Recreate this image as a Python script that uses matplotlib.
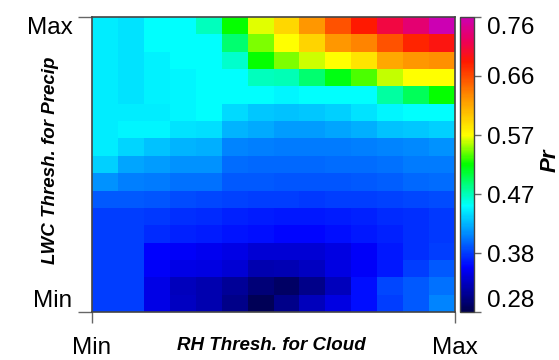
import numpy as np
import matplotlib
matplotlib.use("Agg")
import matplotlib.pyplot as plt
from matplotlib.colors import LinearSegmentedColormap

plt.rcParams["font.family"] = ["Liberation Sans", "DejaVu Sans"]

# Pr per cell; rows go from Max LWC threshold (top) to Min (bottom),
# columns from Min RH threshold (left) to Max (right)
pr_rows = [
    [.446, .443, .453, .453, .470, .520, .563, .590, .626, .659, .688, .712, .731, .760],
    [.446, .443, .453, .453, .453, .491, .544, .568, .592, .626, .635, .659, .683, .693],
    [.446, .443, .448, .453, .453, .467, .520, .544, .558, .568, .582, .616, .626, .630],
    [.446, .443, .448, .450, .453, .453, .470, .472, .491, .515, .534, .556, .568, .568],
    [.446, .443, .448, .450, .453, .453, .453, .450, .453, .453, .453, .477, .496, .520],
    [.446, .446, .446, .450, .453, .438, .431, .429, .431, .434, .443, .450, .453, .453],
    [.446, .450, .450, .443, .441, .424, .419, .414, .414, .417, .422, .429, .431, .434],
    [.446, .436, .429, .424, .422, .405, .402, .400, .400, .400, .402, .405, .407, .410],
    [.434, .417, .414, .410, .410, .395, .393, .393, .393, .395, .395, .398, .400, .400],
    [.410, .402, .400, .398, .398, .388, .388, .386, .386, .386, .388, .390, .393, .395],
    [.388, .388, .386, .383, .381, .378, .376, .376, .374, .376, .376, .378, .381, .383],
    [.376, .376, .374, .371, .369, .366, .364, .362, .362, .364, .366, .369, .371, .374],
    [.376, .376, .369, .366, .364, .359, .357, .354, .354, .357, .362, .366, .371, .374],
    [.376, .376, .352, .350, .347, .342, .335, .335, .335, .340, .350, .362, .371, .376],
    [.376, .376, .350, .342, .340, .335, .321, .323, .328, .340, .350, .362, .376, .388],
    [.376, .376, .342, .326, .321, .311, .297, .290, .306, .326, .357, .381, .388, .398],
    [.376, .376, .342, .328, .321, .306, .285, .306, .326, .340, .357, .376, .388, .405],
]
pr = np.array(pr_rows)

vmin, vmax = 0.28, 0.76
cbar_ticks = [0.28, 0.376, 0.472, 0.568, 0.664, 0.76]
cbar_labels = ["0.28", "0.38", "0.47", "0.57", "0.66", "0.76"]
tick_labels = ["Min", "Max"]

# rainbow-like colour scale: navy -> blue -> cyan -> green -> yellow -> orange -> red -> magenta
cmap = LinearSegmentedColormap.from_list("pr", [
    (0.00, (0.0, 0.0, 0.30)),
    (0.15, (0.0, 0.0, 1.0)),
    (0.36, (0.0, 1.0, 1.0)),
    (0.50, (0.0, 1.0, 0.0)),
    (0.60, (1.0, 1.0, 0.0)),
    (0.72, (1.0, 0.6, 0.0)),
    (0.85, (1.0, 0.1, 0.0)),
    (0.92, (0.93, 0.0, 0.35)),
    (1.00, (0.80, 0.0, 0.70)),
])

fig = plt.figure(figsize=(5.59, 3.6), dpi=100)
ax = fig.add_axes([92 / 559, 48 / 360, 363 / 559, 295 / 360])

nrow, ncol = pr.shape
im = ax.pcolormesh(np.arange(ncol + 1), np.arange(nrow + 1), pr[::-1],
                   cmap=cmap, vmin=vmin, vmax=vmax, antialiased=False, linewidth=0)
ax.set_xlim(0, ncol)
ax.set_ylim(0, nrow)

ax.set_xticks([0, ncol])
ax.set_xticklabels(tick_labels, fontsize=17.5)
ax.set_yticks([0, nrow])
ax.set_yticklabels(tick_labels, fontsize=17.5)
ax.tick_params(axis="x", length=8, width=1, color="#666666", pad=10)
ax.tick_params(axis="y", length=10, width=1, color="#666666", pad=4)
ylabs = ax.get_yticklabels()
ylabs[0].set_va("bottom")
ylabs[1].set_va("top")
for s in ax.spines.values():
    s.set_color("#444444")
    s.set_linewidth(1.2)

fig.text(271 / 559, 1 - 345 / 360, "RH Thresh. for Cloud", ha="center", va="center",
         fontsize=13.5, fontweight="bold", fontstyle="italic")
fig.text(51 / 559, 1 - 160 / 360, "LWC Thresh. for Precip", ha="center", va="center",
         rotation=90, fontsize=13.5, fontweight="bold", fontstyle="italic")

# colour bar
cax = fig.add_axes([460 / 559, 48 / 360, 14 / 559, 295 / 360])
cb = fig.colorbar(im, cax=cax, ticks=cbar_ticks)
cb.ax.set_yticklabels(cbar_labels, fontsize=17.5)
cb.ax.tick_params(length=5, width=1, color="#666666", pad=4)
cb.outline.set_edgecolor("#444444")
cb.outline.set_linewidth(1)
clabs = cb.ax.get_yticklabels()
clabs[0].set_va("bottom")
clabs[-1].set_va("top")
fig.text(550 / 559, 1 - 160 / 360, "Pr", ha="center", va="center", rotation=90,
         fontsize=16, fontweight="bold", fontstyle="italic")

fig.savefig("out.png", dpi=100)
